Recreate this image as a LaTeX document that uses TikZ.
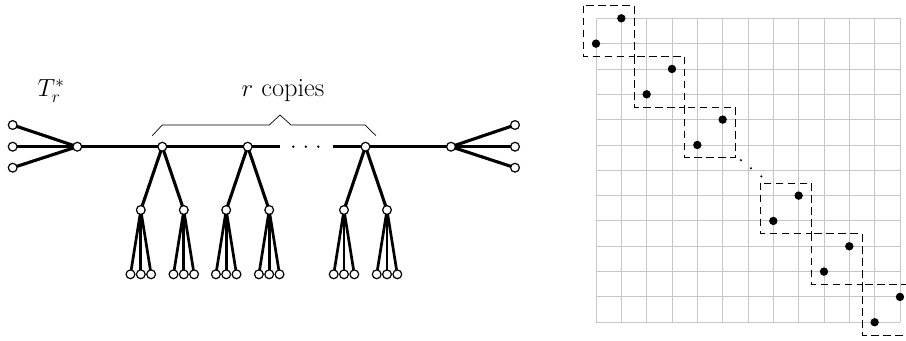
\documentclass[tikz,border=0pt]{standalone}
\usetikzlibrary{backgrounds}
\begin{document}
\begin{tikzpicture}[x=1bp,y=-1bp,
  vtx/.style={circle, draw, fill=white, inner sep=0pt, minimum size=8.8bp, line width=1.2bp},
  tedge/.style={line width=3.1bp},
  ledge/.style={line width=2.7bp},
  bracket/.style={line width=0.7bp},
  gridline/.style={draw=black!22, line width=0.9bp},
  dbox/.style={draw=black, line width=0.8bp, dash pattern=on 7.5bp off 4.5bp},
  big/.style={font=\fontsize{25.5}{30}\selectfont, inner sep=0pt, anchor=base west}
]
\useasboundingbox (0,0) rectangle (906,340);

% ---------- the tree T_r^* ----------
\node[big] (tlabel) at (37.5,96) {$T_r^*$};

% left and right hubs with their three leaves
\node[vtx] (L) at (77.3,146.7) {};
\node[vtx] (R) at (451,146.7) {};
\foreach \k/\yy in {1/125,2/146.7,3/167.7} {
  \node[vtx] (Lleaf\k) at (12.7,\yy) {};
  \node[vtx] (Rleaf\k) at (515,\yy) {};
  \begin{pgfonlayer}{background}
    \draw[tedge] (L.center) -- (Lleaf\k.center);
    \draw[tedge] (R.center) -- (Rleaf\k.center);
  \end{pgfonlayer}
}

% the r copies hanging off the spine
\foreach \i/\xx in {1/162.3,2/247.7,3/365.5} {
  \node[vtx] (root\i) at (\xx,146.7) {};
  \foreach \s/\dx in {a/-21.5,b/21.5} {
    \node[vtx] (kid\i\s) at (\xx+\dx,210) {};
    \begin{pgfonlayer}{background}
      \draw[tedge] (root\i.center) -- (kid\i\s.center);
    \end{pgfonlayer}
    \foreach \t/\ddx in {1/-10.3,2/0,3/10.3} {
      \node[vtx] (leaf\i\s\t) at (\xx+\dx+\ddx,274.3) {};
      \begin{pgfonlayer}{background}
        \draw[ledge] (kid\i\s.center) -- (leaf\i\s\t.center);
      \end{pgfonlayer}
    }
  }
}

% spine, interrupted by the dots
\coordinate (gapL) at (280,146.7);
\coordinate (gapR) at (333.3,146.7);
\begin{pgfonlayer}{background}
  \draw[tedge] (L.center) -- (root1.center) -- (root2.center) -- (gapL);
  \draw[tedge] (gapR) -- (root3.center) -- (R.center);
\end{pgfonlayer}
\foreach \xx in {293.3,305.8,318.3}
  \fill (\xx,146.7) circle (1.3bp);

% bracket over the copies
\draw[bracket] (152.3,135.7) -- (162.3,125) -- (269.3,125) -- (280,115)
  -- (291,125) -- (365,125) -- (376,135.7);
\node[big, font=\fontsize{26.5}{30}\selectfont] (copies) at (241.5,96) {$r$ copies};

% ---------- the grid with diagonal blocks ----------
\begin{scope}[shift={(596,18.3)}, x=25.33bp, y=-25.33bp]
  \foreach \k in {0,...,12} {
    \draw[gridline] (\k,0) -- (\k,12);
    \draw[gridline] (0,\k) -- (12,\k);
  }
  % blocks before the dots
  \foreach \b in {0,2,4} {
    \draw[dbox] (\b-0.5,\b-0.5) rectangle (\b+1.5,\b+1.5);
    \fill (\b+1,\b) circle (4.2bp);
    \fill (\b,\b+1) circle (4.2bp);
  }
  % blocks after the dots
  \foreach \b in {7,9,11} {
    \draw[dbox] (\b-0.5,\b-0.5) rectangle (\b+1.5,\b+1.5);
    \fill (\b+1,\b) circle (4.2bp);
    \fill (\b,\b+1) circle (4.2bp);
  }
  \foreach \p in {(5.72,5.6),(6.12,5.92),(6.53,6.24)}
    \fill \p circle (1.2bp);
\end{scope}
\end{tikzpicture}
\end{document}
